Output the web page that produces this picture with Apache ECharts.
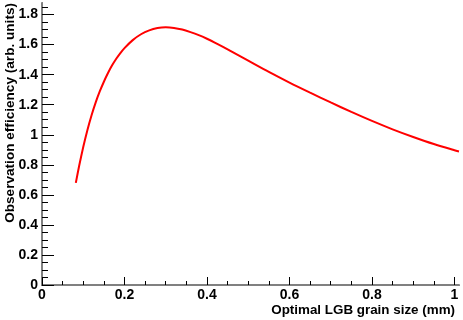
<!DOCTYPE html>
<html>
<head>
<meta charset="utf-8">
<script src="https://cdn.jsdelivr.net/npm/echarts@6/dist/echarts.min.js"></script>
<style>html,body{margin:0;padding:0;background:#fff}#c{width:463px;height:320px}</style>
</head>
<body>
<div id="c"></div>
<script>
const grainSize = [0.082,0.09,0.10,0.11,0.12,0.13,0.14,0.15,0.16,0.17,0.18,0.19,0.20,0.22,0.24,0.26,0.28,0.30,0.32,0.34,0.36,0.38,0.40,0.42,0.44,0.46,0.48,0.50,0.55,0.60,0.65,0.70,0.75,0.80,0.85,0.90,0.95,1.00,1.011];
const efficiency = [0.68,0.792,0.918,1.030,1.128,1.214,1.288,1.353,1.411,1.462,1.506,1.544,1.577,1.630,1.669,1.695,1.710,1.715,1.711,1.700,1.683,1.663,1.639,1.612,1.583,1.553,1.523,1.493,1.418,1.347,1.280,1.215,1.152,1.092,1.036,0.985,0.938,0.897,0.889];
const xTicks = [0,0.2,0.4,0.6,0.8,1];
const yTicks = [0,0.2,0.4,0.6,0.8,1,1.2,1.4,1.6,1.8];
const xTitle = 'Optimal LGB grain size (mm)';
const yTitle = 'Observation efficiency (arb. units)';

const FONT = 'Liberation Sans, Arial, Helvetica, sans-serif';
const chart = echarts.init(document.getElementById('c'), null, {renderer: 'canvas'});
const fmt = v => String(Math.round(v * 10) / 10);
const labelStyle = {fontFamily: FONT, fontWeight: 'bold', fontSize: 14, color: '#000'};

chart.setOption({
  animation: false,
  backgroundColor: '#fff',
  grid: {left: 42, right: 4, top: 3, bottom: 35, containLabel: false},
  xAxis: [{
    type: 'value', min: 0, max: 1.011, interval: 0.2,
    axisLine: {show: true, onZero: false, lineStyle: {color: '#000', width: 1}},
    axisTick: {show: true, inside: true, length: 8, customValues: xTicks, lineStyle: {color: '#000', width: 1}},
    minorTick: {show: true, splitNumber: 4, length: 4, lineStyle: {color: '#000', width: 1}},
    axisLabel: Object.assign({customValues: xTicks, margin: 3, formatter: fmt}, labelStyle),
    splitLine: {show: false}
  }, {
    type: 'value', position: 'top', min: 0, max: 1.011,
    axisLine: {show: true, lineStyle: {color: '#808080', width: 2}},
    axisTick: {show: false}, axisLabel: {show: false}, splitLine: {show: false}
  }],
  yAxis: [{
    type: 'value', min: 0, max: 1.877, interval: 0.2,
    axisLine: {show: true, onZero: false, lineStyle: {color: '#000', width: 1}},
    axisTick: {show: true, inside: true, length: 12, customValues: yTicks, lineStyle: {color: '#000', width: 1}},
    minorTick: {show: true, splitNumber: 4, length: 6, lineStyle: {color: '#000', width: 1}},
    axisLabel: Object.assign({customValues: yTicks, margin: 4, formatter: fmt}, labelStyle),
    splitLine: {show: false}
  }, {
    type: 'value', position: 'right', min: 0, max: 1.877,
    axisLine: {show: true, lineStyle: {color: '#808080', width: 2}},
    axisTick: {show: false}, axisLabel: {show: false}, splitLine: {show: false}
  }],
  series: [{
    type: 'line',
    data: grainSize.map((x, i) => [x, efficiency[i]]),
    smooth: 0.25,
    showSymbol: false,
    lineStyle: {color: '#ff0000', width: 2},
    clip: true
  }],
  graphic: [{
    type: 'text', x: 455, y: 310,
    style: {text: xTitle, textAlign: 'right', textVerticalAlign: 'middle', font: 'bold 13.4px ' + FONT, fill: '#000'}
  }, {
    type: 'text', x: 10, y: 3, rotation: Math.PI / 2,
    style: {text: yTitle, textAlign: 'right', textVerticalAlign: 'middle', font: 'bold 13.6px ' + FONT, fill: '#000'}
  }]
});
</script>
</body>
</html>
